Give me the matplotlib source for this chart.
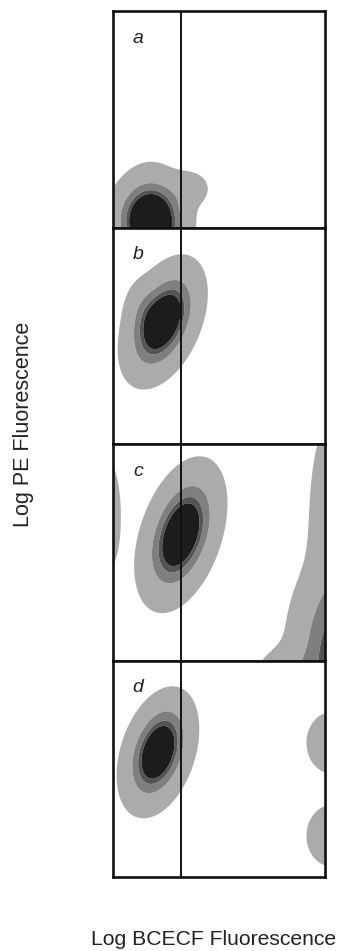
import numpy as np
import matplotlib
matplotlib.use("Agg")
import matplotlib.pyplot as plt

plt.rcParams['font.family'] = ['Liberation Sans', 'DejaVu Sans']

# ---- data (axes-fraction units) ----
panel_labels = ['a', 'b', 'c', 'd']
gate_x = 0.32                      # vertical gate on Log BCECF axis

# density components: panel index, centre, spread, correlation, weight
blob_panel = [0, 0, 0, 1, 1, 2, 2, 2, 2, 2, 3, 3, 3]
blob_cx    = [0.18, 0.36, 0.17, 0.235, 0.14, 0.32, -0.02, 1.03, 0.85, 1.03, 0.212, 1.03, 1.03]
blob_cy    = [0.0, 0.18, 0.06, 0.564, 0.62, 0.581, 0.67, 0.05, -0.08, 0.62, 0.576, 0.62, 0.19]
blob_sx    = [0.08, 0.06, 0.09, 0.085, 0.05, 0.088, 0.04, 0.10, 0.10, 0.06, 0.078, 0.075, 0.075]
blob_sy    = [0.12, 0.05, 0.08, 0.125, 0.08, 0.145, 0.17, 0.20, 0.08, 0.28, 0.122, 0.09, 0.09]
blob_rho   = [0.0, 0.0, 0.0, 0.42, 0.0, 0.40, 0.0, 0.0, 0.0, 0.0, 0.35, 0.0, 0.0]
blob_w     = [1.0, 0.12, 0.35, 1.0, 0.12, 1.0, 0.12, 0.52, 0.2, 0.2, 1.0, 0.15, 0.15]

density_levels = [0.044, 0.301, 0.487, 0.607, 10.0]
level_colors = ['#ababab', '#7f7f7f', '#545454', '#1c1c1c']

x_label = 'Log BCECF Fluorescence'
y_label = 'Log PE Fluorescence'

# ---- figure ----
W, H = 341, 951
fig = plt.figure(figsize=(W / 100, H / 100), dpi=100)

left_px, right_px = 113, 325
top_px, bottom_px = 11, 877
ph = (bottom_px - top_px) / 4

gx = np.linspace(-0.2, 1.2, 420)
gy = np.linspace(-0.2, 1.2, 420)
X, Y = np.meshgrid(gx, gy)

for i, lab in enumerate(panel_labels):
    t = top_px + i * ph
    ax = fig.add_axes([left_px / W, 1 - (t + ph) / H, (right_px - left_px) / W, ph / H])
    Z = np.zeros_like(X)
    for p, cx, cy, sx, sy, rho, w in zip(blob_panel, blob_cx, blob_cy, blob_sx,
                                         blob_sy, blob_rho, blob_w):
        if p != i:
            continue
        dx = (X - cx) / sx
        dy = (Y - cy) / sy
        q = (dx ** 2 - 2 * rho * dx * dy + dy ** 2) / (1 - rho ** 2)
        Z += w * np.exp(-q / 2)
    ax.contourf(X, Y, Z, levels=density_levels, colors=level_colors, antialiased=True)
    ax.axvline(gate_x, color='#111111', lw=1.4, zorder=3)
    ax.set_xlim(0, 1)
    ax.set_ylim(0, 1)
    ax.set_xticks([])
    ax.set_yticks([])
    for s in ax.spines.values():
        s.set_linewidth(1.9)
        s.set_color('#111111')
        s.set_zorder(4)
    ax.text(0.118, 0.875, lab, transform=ax.transAxes, ha='center', va='center',
            fontsize=14, style='italic', color='#222222')

fig.text(24 / W, 1 - 424 / H, y_label, rotation=90, ha='center', va='center',
         fontsize=15.5, color='#222222')
fig.text(214 / W, 1 - 945 / H, x_label, ha='center', va='baseline',
         fontsize=15.2, color='#222222')

fig.savefig('out.png', dpi=100, facecolor='white')
